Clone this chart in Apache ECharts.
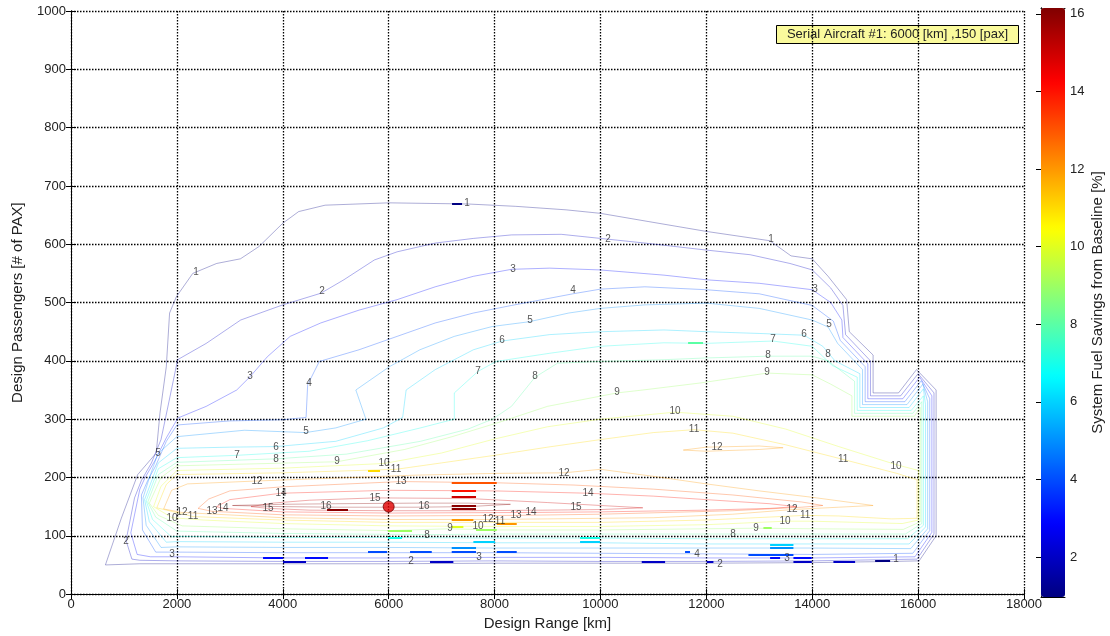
<!DOCTYPE html>
<html><head><meta charset="utf-8">
<script src="https://cdn.jsdelivr.net/npm/echarts@6/dist/echarts.min.js"></script>
<style>html,body{margin:0;padding:0;background:#fff}#chart{width:1110px;height:636px}</style>
</head><body><div id="chart"></div>
<script>
// ---------- data ----------
const colorMin = 0.97, colorMax = 16.15;
const colorbarTicks = [2, 4, 6, 8, 10, 12, 14, 16];

// contour polylines [range km, passengers]
const c1 = [[650,50],[950,130],[1260,205],[1610,242],[1680,310],[1800,390],[1862,482],[1990,510],[2300,550],[2750,567],[3200,575],[3550,596],[4000,636],[4300,656],[4800,667],[6000,671],[7500,669],[8400,665],[9350,659],[10000,653],[10900,639],[12000,622],[13200,606],[13600,580],[14000,575],[14300,545],[14650,505],[14700,450],[15150,410],[15150,345],[15630,345],[15970,385],[16340,350],[16340,100],[16020,57],[15500,56],[14000,54],[12000,53],[10000,53],[8000,53],[6000,52],[4000,52],[2000,52],[1300,52],[650,50]];
const c2 = [[1150,60],[1040,92],[1200,165],[1330,195],[1520,225],[1700,265],[1850,330],[2014,402],[2555,430],[3204,470],[4000,496],[4720,516],[5153,539],[5730,573],[6160,587],[6880,602],[7600,610],[8320,616],[9260,617],[10000,610],[10840,602],[12000,590],[12830,582],[13580,567],[14000,556],[14350,525],[14580,495],[14630,445],[15100,400],[15100,340],[15670,340],[16000,378],[16300,345],[16300,103],[15980,60],[14000,57],[12000,56],[10000,56],[8000,57],[6000,56],[4000,56],[2000,57],[1300,58],[1150,60]];
const c3 = [[1250,68],[1130,105],[1300,180],[1400,200],[1580,228],[1800,268],[2019,302],[2555,322],[3130,350],[3384,373],[3708,407],[4140,442],[4717,465],[5440,487],[6160,505],[6880,527],[7600,545],[8320,557],[9040,559],[9980,556],[11200,547],[12000,539],[13000,533],[14000,522],[14350,500],[14560,470],[14580,440],[15050,395],[15050,335],[15710,335],[16030,372],[16260,340],[16260,106],[15940,64],[14000,62],[12000,62],[10000,63],[8000,63],[6000,62],[4000,62],[2000,64],[1500,64],[1250,68]];
const c4 = [[1600,72],[1350,110],[1330,170],[1450,195],[1600,220],[1800,262],[2000,290],[3000,297],[4000,299],[4440,303],[4470,359],[4690,399],[5440,419],[6160,442],[6880,465],[7600,482],[8320,495],[9480,515],[10000,523],[10840,527],[12000,522],[13000,515],[14000,495],[14400,468],[14530,435],[15000,390],[15000,330],[15750,330],[16060,366],[16220,335],[16220,109],[15900,70],[14000,68],[12000,69],[10000,70],[8000,71],[6000,71],[4000,71],[2000,72],[1600,72]];
const c5 = [[1700,80],[1420,118],[1360,165],[1500,205],[1643,241],[2000,270],[3275,281],[4430,277],[5000,285],[5570,300],[5380,350],[6014,390],[6590,419],[7240,442],[7960,459],[8650,467],[9400,482],[10000,490],[10840,496],[12000,499],[13000,490],[14000,470],[14300,458],[14480,430],[14950,385],[14950,325],[15790,325],[16090,360],[16180,330],[16180,112],[15860,78],[14000,79],[12000,79],[10000,79],[8000,79],[6000,80],[4000,80],[2000,81],[1700,80]];
const c6 = [[1800,89],[1480,124],[1390,162],[1650,225],[2000,250],[3000,252],[3872,253],[5000,262],[5900,285],[6264,303],[6330,350],[6880,385],[7600,419],[8142,434],[9040,445],[10000,450],[11200,453],[12000,450],[13000,447],[13846,444],[14200,425],[14430,400],[14900,378],[14900,320],[15830,320],[16100,352],[16140,325],[16140,115],[15830,86],[14000,86],[12000,86],[10000,88],[8000,88],[6000,89],[4000,89],[2000,90],[1800,89]];
const c7 = [[1900,98],[1540,128],[1420,160],[1650,215],[2000,234],[3136,238],[4500,245],[5600,263],[6600,285],[7240,300],[7240,345],[7688,382],[8030,399],[9040,413],[10000,425],[11200,431],[12000,430],[13261,434],[14000,425],[14380,392],[14850,372],[14850,315],[15870,315],[16100,340],[16100,118],[15800,95],[14000,95],[12000,95],[10000,96],[8000,96],[6000,97],[4000,97],[2000,99],[1900,98]];
const c8 = [[2000,108],[1600,132],[1450,158],[1650,205],[2000,226],[3872,232],[5200,240],[6600,262],[7500,283],[7960,300],[8320,322],[8765,372],[9190,396],[10000,399],[11200,402],[12000,405],[13166,408],[14000,408],[14300,400],[14800,365],[14800,310],[15900,310],[16070,330],[16070,121],[15760,103],[14000,103],[12505,103],[10000,103],[8000,103],[6725,102],[4000,104],[2000,108]];
const c9 = [[2100,117],[1650,135],[1480,156],[1700,200],[2000,220],[5025,227],[6300,248],[7200,270],[8100,295],[9000,322],[10314,345],[10800,350],[11880,362],[13147,379],[14000,376],[14350,360],[14750,340],[14750,305],[15930,305],[16040,320],[16040,124],[15720,111],[14000,112],[12940,113],[10000,110],[8000,110],[7159,112],[6000,109],[4000,112],[2100,117]];
const c10 = [[1560,150],[1700,185],[2000,212],[4000,216],[5913,224],[7000,242],[8000,266],[9000,287],[10000,300],[11410,312],[12500,305],[13500,283],[14500,253],[15584,222],[16010,212],[16010,127],[15700,121],[14000,125],[13487,125],[12000,119],[10000,116],[8000,116],[6000,117],[4000,121],[2500,127],[1908,131],[1560,150]];
const c11 = [[1620,148],[1800,188],[2000,205],[4000,208],[6139,214],[7000,225],[8000,238],[9000,252],[10000,265],[11000,277],[11768,282],[12500,276],[13500,256],[14583,231],[15600,207],[15980,196],[15980,130],[15500,129],[14500,134],[13865,135],[12000,127],[10000,123],[8104,123],[6000,123],[4000,127],[2305,133],[1620,148]];
const c12 = [[1750,146],[1900,178],[2200,189],[3514,194],[5000,199],[6500,204],[8000,207],[9313,208],[10000,214],[11000,202],[12000,189],[13000,177],[14000,166],[15150,152],[14500,149],[13620,145],[12500,137],[11000,131],[9000,129],[7877,128],[6000,128],[4000,131],[2097,140],[1750,146]];
const c12b = [[11565,247],[12000,252],[13000,254],[13450,251],[13000,248],[12000,245],[11565,247]];
const c13 = [[2400,147],[2600,163],[3000,177],[4000,184],[6234,193],[8000,191],[9500,187],[11000,180],[12500,170],[13800,158],[14200,152],[13800,149],[12500,143],[10000,137],[8406,135],[6000,134],[4000,136],[2663,142],[2400,147]];
const c14 = [[2750,150],[3000,162],[3967,173],[6000,178],[8000,177],[9766,173],[11000,168],[12000,162],[13200,155],[13700,150],[13200,147],[12000,144],[10000,141],[8690,140],[6000,139],[4000,141],[2871,147],[2750,150]];
const c15 = [[3400,150],[3800,156],[4500,161],[5743,165],[7500,164],[9000,157],[10000,152],[10800,148],[10000,145],[9000,144],[7500,143],[6000,143],[4500,144],[3721,147],[3400,150]];
const c16 = [[3050,152],[4000,154],[5000,155],[6500,156],[7500,156],[8300,154],[7500,150],[6500,149],[5000,149],[4000,150],[3050,152]];
const contourLevels = [1,2,3,4,5,6,7,8,9,10,11,12,12,13,14,15,16];
const contourPaths  = [c1,c2,c3,c4,c5,c6,c7,c8,c9,c10,c11,c12,c12b,c13,c14,c15,c16];

// contour labels [level, range, pax]
const contourLabels = [
 [1,7480,670],[1,2361,552],[1,13223,608],[1,15584,60],
 [2,4741,520],[2,10144,608],[2,6423,56],[2,12260,51],[2,1039,91],
 [3,3381,374],[3,8349,557],[3,14054,523],[3,1908,68],[3,7707,63],[3,13525,62],
 [4,4496,361],[4,9483,521],[4,11825,68],
 [5,4439,279],[5,8671,470],[5,1643,241],[5,14319,463],
 [6,3872,251],[6,8142,436],[6,13846,446],
 [7,3136,238],[7,7688,383],[7,13261,437],
 [8,3872,232],[8,8765,374],[8,13166,410],[8,14300,412],[8,6725,101],[8,12505,103],
 [9,5025,227],[9,10314,347],[9,13147,381],[9,7159,113],[9,12940,113],
 [10,5913,224],[10,11410,313],[10,15584,220],[10,7688,116],[10,13487,125],[10,1908,130],
 [11,6139,214],[11,11768,282],[11,14583,231],[11,8104,125],[11,13865,135],[11,2305,133],
 [12,3514,193],[12,9313,208],[12,12203,251],[12,7877,128],[12,13620,145],[12,2097,140],
 [13,6234,193],[13,8406,135],[13,2663,142],
 [14,3967,173],[14,9766,173],[14,8690,140],[14,2871,147],
 [15,5743,164],[15,9540,149],[15,3721,147],
 [16,4817,150],[16,6668,150]
];

// short bold contour segments [level, rangeStart, rangeEnd, pax]
const boldSegments = [
 [11,5610,5837,212],[16,4836,5232,145],[3,3627,4005,62],[2,4005,4439,55],[3,4420,4855,62],
 [4,5610,5969,72],[9,5988,6441,109],[7,5988,6253,97],[13,7191,8041,191],[14,7191,7650,178],
 [15,7191,7650,167],[16,7191,7650,152],[16,7191,7650,147],[12,7191,7600,127],[10,7191,7411,116],
 [9,7650,8041,110],[12,8041,8419,121],[6,7600,8010,89],[5,7191,7650,80],[4,7191,7650,72],
 [4,6404,6814,72],[4,8041,8419,72],[2,6781,7222,55],[7,9615,9993,97],[6,9615,9993,89],
 [2,10780,11221,55],[4,11598,11692,72],[6,13204,13645,85],[5,13204,13645,79],[4,12795,13645,68],
 [3,13204,13393,62],[3,13645,13992,62],[2,13645,13992,55],[2,14400,14810,55],[1,15188,15471,58],
 [2,12008,12134,55],[9,13078,13235,114],[1,7197,7386,670],[8,11655,11938,431]
];

const serialAircraft = [[6000,150]];
const annotationText = 'Serial Aircraft #1: 6000 [km] ,150 [pax]';

// ---------- helpers ----------
function jet(v, a) {
  const t = Math.max(0, Math.min(1, (v - colorMin) / (colorMax - colorMin)));
  const c = x => Math.round(255 * Math.max(0, Math.min(1, x)));
  const r = c(1.5 - Math.abs(4*t - 3)), g = c(1.5 - Math.abs(4*t - 2)), b = c(1.5 - Math.abs(4*t - 1));
  return 'rgba(' + r + ',' + g + ',' + b + ',' + a + ')';
}
const jetStops = ['#000080','#0000ff','#0080ff','#00ffff','#80ff80','#ffff00','#ff8000','#ff0000','#800000'];
const FONT = '"Liberation Sans", Arial, sans-serif';
const plain = v => String(v);

const series = [];
contourPaths.forEach((p, i) => {
  series.push({
    type: 'line', xAxisIndex: 0, yAxisIndex: 0, data: p, symbol: 'none', smooth: false,
    lineStyle: { color: jet(contourLevels[i], 0.32), width: 1 }, silent: true, z: 2, animation: false
  });
});
series.push({
  type: 'lines', coordinateSystem: 'cartesian2d', xAxisIndex: 0, yAxisIndex: 0, silent: true, z: 3,
  data: boldSegments.map(s => ({ coords: [[s[1], s[3]], [s[2], s[3]]], lineStyle: { color: jet(s[0], 1) } })),
  lineStyle: { width: 2.2, opacity: 1 }, animation: false
});
series.push({
  type: 'scatter', xAxisIndex: 0, yAxisIndex: 0, silent: true, z: 4, symbolSize: 1,
  itemStyle: { color: 'rgba(0,0,0,0)' },
  data: contourLabels.map(l => [l[1], l[2], l[0]]),
  label: { show: true, position: 'inside', formatter: p => String(p.value[2]),
           fontSize: 10, color: '#2a2a2a', fontFamily: FONT }, animation: false
});
series.push({
  type: 'scatter', xAxisIndex: 0, yAxisIndex: 0, silent: true, z: 5, symbolSize: 11,
  itemStyle: { color: '#e00000', borderColor: '#700000', borderWidth: 1 },
  data: serialAircraft, animation: false
});
const dummyIdx = series.length;
series.push({ type: 'scatter', xAxisIndex: 2, yAxisIndex: 2, data: [], silent: true });

const axisCommon = { axisLine: { lineStyle: { color: '#000', width: 1 } } };
const gridDots = { show: true, lineStyle: { color: '#000', type: [1.5, 1.5], width: 1.3 } };
const option = {
  backgroundColor: '#fff',
  animation: false,
  textStyle: { fontFamily: FONT },
  grid: [
    { left: 71, top: 11, width: 953, height: 585 },
    { left: 1041, top: 8, width: 24, height: 589 }
  ],
  xAxis: [
    { type: 'value', gridIndex: 0, min: 0, max: 18000, interval: 2000, position: 'bottom',
      ...axisCommon, axisTick: { inside: true, length: 5, lineStyle: { color: '#000' } },
      axisLabel: { color: '#222', fontSize: 13, margin: 4, fontFamily: FONT, formatter: plain },
      splitLine: gridDots,
      name: 'Design Range [km]', nameLocation: 'middle', nameGap: 21,
      nameTextStyle: { color: '#222', fontSize: 15, fontFamily: FONT } },
    { type: 'value', gridIndex: 0, min: 0, max: 18000, interval: 2000, position: 'top',
      ...axisCommon, axisTick: { inside: true, length: 5, lineStyle: { color: '#000' } },
      axisLabel: { show: false }, splitLine: { show: false } },
    { type: 'value', gridIndex: 1, min: 0, max: 1, position: 'bottom', ...axisCommon,
      axisTick: { show: false }, axisLabel: { show: false }, splitLine: { show: false } },
    { type: 'value', gridIndex: 1, min: 0, max: 1, position: 'top', ...axisCommon,
      axisTick: { show: false }, axisLabel: { show: false }, splitLine: { show: false } }
  ],
  yAxis: [
    { type: 'value', gridIndex: 0, min: 0, max: 1000, interval: 100, position: 'left',
      ...axisCommon, axisTick: { inside: true, length: 5, lineStyle: { color: '#000' } },
      axisLabel: { color: '#222', fontSize: 13, margin: 5, fontFamily: FONT, formatter: plain },
      splitLine: gridDots,
      name: 'Design Passengers [# of PAX]', nameLocation: 'middle', nameGap: 46, nameRotate: 90,
      nameTextStyle: { color: '#222', fontSize: 15, fontFamily: FONT } },
    { type: 'value', gridIndex: 0, min: 0, max: 1000, interval: 100, position: 'right',
      ...axisCommon, axisTick: { inside: true, length: 5, lineStyle: { color: '#000' } },
      axisLabel: { show: false }, splitLine: { show: false } },
    { type: 'value', gridIndex: 1, min: colorMin, max: colorMax, position: 'left', ...axisCommon,
      axisTick: { inside: true, length: 5, customValues: colorbarTicks, lineStyle: { color: '#000' } },
      axisLabel: { show: false }, splitLine: { show: false } },
    { type: 'value', gridIndex: 1, min: colorMin, max: colorMax, position: 'right', ...axisCommon,
      axisTick: { inside: true, length: 5, customValues: colorbarTicks, lineStyle: { color: '#000' } },
      axisLabel: { show: true, customValues: colorbarTicks, color: '#222', fontSize: 13, margin: 5, fontFamily: FONT },
      splitLine: { show: false },
      name: 'System Fuel Savings from Baseline [%]', nameLocation: 'middle', nameGap: 25, nameRotate: 90,
      nameTextStyle: { color: '#222', fontSize: 15, fontFamily: FONT } }
  ],
  visualMap: [{
    type: 'continuous', min: colorMin, max: colorMax, seriesIndex: dummyIdx, dimension: 1,
    orient: 'vertical', left: 1041, top: 8, itemWidth: 24, itemHeight: 589, padding: 0,
    calculable: false, hoverLink: false, showLabel: false,
    inRange: { color: jetStops }
  }],
  graphic: [{
    type: 'group', left: 776, top: 25, silent: true, z: 100,
    children: [
      { type: 'rect', shape: { x: 0, y: 0, width: 242, height: 18 },
        style: { fill: '#fafa9c', stroke: '#000', lineWidth: 1 } },
      { type: 'text', x: 121, y: 9,
        style: { text: annotationText, fill: '#222', font: '13px ' + FONT, align: 'center', verticalAlign: 'middle' } }
    ]
  }],
  series: series
};
const chart = echarts.init(document.getElementById('chart'), null, { renderer: 'canvas' });
chart.setOption(option);
</script></body></html>
